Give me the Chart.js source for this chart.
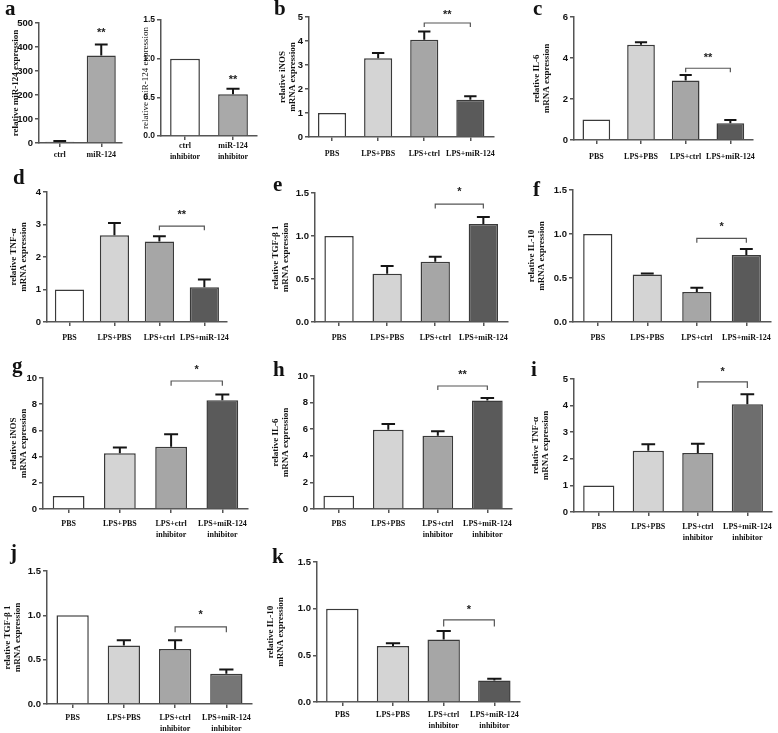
<!DOCTYPE html>
<html>
<head>
<meta charset="utf-8">
<script src="https://cdn.jsdelivr.net/npm/chart.js@4.4.1/dist/chart.umd.min.js"></script>
<style>
  body { margin: 0; background: #fff; width: 778px; height: 733px; position: relative; overflow: hidden; }
  canvas { position: absolute; }
  .letter { position: absolute; font: bold 21px "Liberation Serif", serif; line-height: 1; color: #111; }
</style>
</head>
<body>
<script>
// ---- data ----
const catsMiR = ['ctrl', 'miR-124'];
const catsInh = [['ctrl', 'inhibitor'], ['miR-124', 'inhibitor']];
const catsLPS = ['PBS', 'LPS+PBS', 'LPS+ctrl', 'LPS+miR-124'];
const catsLPSInh = ['PBS', 'LPS+PBS', ['LPS+ctrl', 'inhibitor'], ['LPS+miR-124', 'inhibitor']];

const valsA1 = [5, 365];        const errA1 = [3, 45];
const valsA2 = [1, 0.54];       const errA2 = [0, 0.07];
const valsB = [1, 3.28, 4.05, 1.55];  const errB = [0, 0.22, 0.35, 0.15];
const valsC = [1, 4.65, 2.9, 0.82];   const errC = [0, 0.12, 0.27, 0.15];
const valsD = [1, 2.67, 2.48, 1.07];  const errD = [0, 0.38, 0.16, 0.24];
const valsE = [1, 0.56, 0.70, 1.14];  const errE = [0, 0.09, 0.06, 0.08];
const valsF = [1, 0.54, 0.34, 0.76];  const errF = [0, 0.01, 0.05, 0.07];
const valsG = [1, 4.25, 4.75, 8.3];   const errG = [0, 0.45, 0.95, 0.45];
const valsH = [1, 5.95, 5.5, 8.15];   const errH = [0, 0.45, 0.35, 0.2];
const valsI = [1, 2.3, 2.22, 4.05];   const errI = [0, 0.25, 0.35, 0.38];
const valsJ = [1, 0.66, 0.62, 0.34];  const errJ = [0, 0.06, 0.1, 0.05];
const valsK = [1, 0.6, 0.67, 0.23];   const errK = [0, 0.03, 0.09, 0.02];

// significance: [fromBar, toBar, bracketY, tickEndY, labelY, label]
const sigA1 = [1, 1, null, null, 458, '**'];
const sigA2 = [1, 1, null, null, 0.72, '**'];
const sigB = [2, 3, 4.75, 4.58, 5.1, '**'];
const sigC = [2, 3, 3.5, 3.3, 4.0, '**'];
const sigD = [2, 3, 2.95, 2.82, 3.3, '**'];
const sigE = [2, 3, 1.37, 1.32, 1.51, '*'];
const sigF = [2, 3, 0.95, 0.9, 1.08, '*'];
const sigG = [2, 3, 9.77, 9.4, 10.6, '*'];
const sigH = [2, 3, 9.25, 8.95, 10.1, '**'];
const sigI = [2, 3, 4.89, 4.66, 5.26, '*'];
const sigJ = [2, 3, 0.87, 0.81, 1.0, '*'];
const sigK = [2, 3, 0.88, 0.81, 0.99, '*'];

const yMax = { a1: 500, a2: 1.5, b: 5, c: 6, d: 4, e: 1.5, f: 1.5, g: 10, h: 10, i: 5, j: 1.5, k: 1.5 };
const yStep = { a1: 100, a2: 0.5, b: 1, c: 2, d: 1, e: 0.5, f: 0.5, g: 2, h: 2, i: 1, j: 0.5, k: 0.5 };

// ---- drawing ----
const fourFills = ['#ffffff', '#d4d4d4', '#a6a6a6', '#5a5a5a'];

// plot box [left, top, right, bottom], y-scale width, x label padding
const panels = [
  { key: 'a1', letter: 'a', lx: 5, ly: -2, cats: catsMiR, vals: valsA1, errs: errA1, sig: sigA1, box: [39, 23, 122, 143], yw: 29, xpad: 3, bp: 0.70,
    fills: ['#a9a9a9', '#a9a9a9'], title: 'relative miR-124 expression', dec: 0 },
  { key: 'a2', cats: catsInh, vals: valsA2, errs: errA2, sig: sigA2, box: [161, 20, 257, 136], yw: 21, xpad: 1, bp: 0.62,
    fills: ['#ffffff', '#a9a9a9'], title: 'relative miR-124 expression', dec: 1, light: true },
  { key: 'b', letter: 'b', lx: 274, ly: -2, cats: catsLPS, vals: valsB, errs: errB, sig: sigB, box: [309, 17, 500, 137], yw: 32, xpad: 8, bp: 0.61,
    title: ['relative iNOS', 'mRNA expression'], dec: 0 },
  { key: 'c', letter: 'c', lx: 533, ly: -2, cats: catsLPS, vals: valsC, errs: errC, sig: sigC, box: [574, 17, 760, 140], yw: 43, xpad: 8, bp: 0.62,
    title: ['relative IL-6', 'mRNA expression'], dec: 0 },
  { key: 'd', letter: 'd', lx: 13, ly: 167, cats: catsLPS, vals: valsD, errs: errD, sig: sigD, box: [47, 192, 233, 322], yw: 39, xpad: 7, bp: 0.65,
    title: ['relative TNF-\u03b1', 'mRNA expression'], dec: 0 },
  { key: 'e', letter: 'e', lx: 273, ly: 174, cats: catsLPS, vals: valsE, errs: errE, sig: sigE, box: [315, 193, 512, 322], yw: 45, xpad: 7, bp: 0.61,
    title: ['relative TGF-\u03b2 1', 'mRNA expression'], dec: 1 },
  { key: 'f', letter: 'f', lx: 533, ly: 179, cats: catsLPS, vals: valsF, errs: errF, sig: sigF, box: [573, 190, 775, 322], yw: 47, xpad: 7, bp: 0.59,
    title: ['relative IL-10', 'mRNA expression'], dec: 1 },
  { key: 'g', letter: 'g', lx: 12, ly: 355, cats: catsLPSInh, vals: valsG, errs: errG, sig: sigG, box: [43, 378, 250, 509], yw: 35, xpad: 6, bp: 0.62,
    title: ['relative iNOS', 'mRNA expression'], dec: 0 },
  { key: 'h', letter: 'h', lx: 273, ly: 359, cats: catsLPSInh, vals: valsH, errs: errH, sig: sigH, box: [314, 376, 515, 509], yw: 44, xpad: 6, bp: 0.62,
    title: ['relative IL-6', 'mRNA expression'], dec: 0 },
  { key: 'i', letter: 'i', lx: 531, ly: 359, cats: catsLPSInh, vals: valsI, errs: errI, sig: sigI, box: [574, 379, 775, 512], yw: 44, xpad: 6, bp: 0.63,
    title: ['relative TNF-\u03b1', 'mRNA expression'], dec: 0, dark: '#6e6e6e' },
  { key: 'j', letter: 'j', lx: 10, ly: 542, cats: catsLPSInh, vals: valsJ, errs: errJ, sig: sigJ, box: [47, 571, 253, 704], yw: 45, xpad: 5, bp: 0.63,
    title: ['relative TGF-\u03b2 1', 'mRNA expression'], dec: 1, dark: '#767676' },
  { key: 'k', letter: 'k', lx: 272, ly: 546, cats: catsLPSInh, vals: valsK, errs: errK, sig: sigK, box: [317, 562, 520, 702], yw: 52, xpad: 4, bp: 0.64,
    title: ['relative IL-10', 'mRNA expression'], dec: 1 }
];

// error bars (upper only) and significance marks
const extrasPlugin = {
  id: 'extras',
  afterDatasetsDraw(chart, args, opts) {
    const { ctx } = chart;
    const y = chart.scales.y;
    const ds = chart.data.datasets[0];
    const meta = chart.getDatasetMeta(0);
    ctx.save();
    ctx.strokeStyle = '#151515';
    ctx.lineWidth = 2;
    meta.data.forEach((bar, i) => {
      const e = ds.errors[i];
      if (!e) return;
      const y0 = y.getPixelForValue(ds.data[i]);
      const y1 = y.getPixelForValue(ds.data[i] + e);
      const cw = bar.width * 0.22;
      ctx.beginPath();
      ctx.moveTo(bar.x, y0);
      ctx.lineTo(bar.x, y1);
      ctx.moveTo(bar.x - cw, y1);
      ctx.lineTo(bar.x + cw, y1);
      ctx.stroke();
    });
    const [from, to, by, ty, ly, label] = opts.sig;
    const xa = meta.data[from].x, xb = meta.data[to].x;
    if (by !== null) {
      const yb = y.getPixelForValue(by), yt = y.getPixelForValue(ty);
      ctx.strokeStyle = '#555';
      ctx.lineWidth = 1.2;
      ctx.beginPath();
      ctx.moveTo(xa, yt);
      ctx.lineTo(xa, yb);
      ctx.lineTo(xb, yb);
      ctx.lineTo(xb, yt);
      ctx.stroke();
    }
    ctx.fillStyle = '#222';
    ctx.font = 'bold 11px "Liberation Sans", sans-serif';
    ctx.textAlign = 'center';
    ctx.textBaseline = 'middle';
    ctx.fillText(label, (xa + xb) / 2, y.getPixelForValue(ly));
    ctx.restore();
  }
};

const padTop = 24;

panels.forEach(p => {
  const [l, t, r, b] = p.box;
  const twoLine = p.cats.some(c => Array.isArray(c));
  const xh = twoLine ? 38 : 26;
  const w = p.yw + (r - l) + 3;
  const h = padTop + (b - t) + xh;

  const canvas = document.createElement('canvas');
  canvas.width = w;
  canvas.height = h;
  canvas.style.left = (l - p.yw) + 'px';
  canvas.style.top = (t - padTop) + 'px';
  document.body.appendChild(canvas);

  if (p.letter) {
    const d = document.createElement('div');
    d.className = 'letter';
    d.textContent = p.letter;
    d.style.left = p.lx + 'px';
    d.style.top = p.ly + 'px';
    document.body.appendChild(d);
  }

  let fills = p.fills || fourFills.slice();
  if (p.dark) fills[3] = p.dark;

  new Chart(canvas, {
    type: 'bar',
    data: {
      labels: p.cats,
      datasets: [{
        data: p.vals,
        errors: p.errs,
        backgroundColor: fills,
        borderColor: '#3a3a3a',
        borderWidth: 1.5,
        borderSkipped: 'bottom',
        categoryPercentage: 1,
        barPercentage: p.bp
      }]
    },
    options: {
      responsive: false,
      animation: false,
      devicePixelRatio: 1,
      layout: { padding: { top: padTop, right: 3, left: 0, bottom: 0 } },
      plugins: {
        legend: { display: false },
        tooltip: { enabled: false },
        extras: { sig: p.sig }
      },
      scales: {
        x: {
          afterFit: s => { s.height = xh; },
          border: { color: '#555', width: 1.5 },
          grid: { offset: false, drawOnChartArea: false, drawTicks: true, tickLength: 4, color: '#555', lineWidth: 1.5 },
          ticks: {
            maxRotation: 0, autoSkip: false, padding: p.xpad, color: '#111',
            font: { family: '"Liberation Serif", serif', weight: 'bold', size: 8, lineHeight: 1.35 }
          }
        },
        y: {
          min: 0,
          max: yMax[p.key],
          afterFit: s => { s.width = p.yw; },
          border: { color: '#555', width: 1.5 },
          grid: { drawOnChartArea: false, drawTicks: true, tickLength: 4, color: '#555', lineWidth: 1.5 },
          ticks: {
            stepSize: yStep[p.key], padding: 2, color: '#111',
            font: { family: '"Liberation Sans", sans-serif', weight: 'bold', size: p.light ? 8.5 : 9.5 },
            callback: v => v.toFixed(p.dec)
          },
          title: {
            display: true,
            text: p.title,
            padding: 0,
            color: '#111',
            font: { family: '"Liberation Serif", serif', weight: p.light ? 'normal' : 'bold', size: 9, lineHeight: 1.15 }
          }
        }
      }
    },
    plugins: [extrasPlugin]
  });
});
</script>
</body>
</html>
